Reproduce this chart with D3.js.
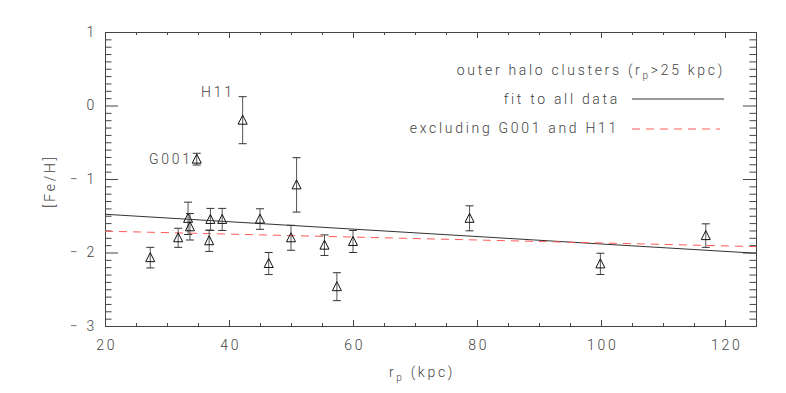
<!DOCTYPE html>
<html>
<head>
<meta charset="utf-8">
<script src="https://cdn.jsdelivr.net/npm/d3@7"></script>
<style>
  body { margin: 0; background: #fff; }
  svg text { font-family: Roboto, 'DejaVu Sans', sans-serif; font-weight: 300; fill: #444; letter-spacing: 2.7px; }
</style>
</head>
<body>
<svg id="canvas"></svg>
<script>
let width = 786
let height = 393

// outer halo clusters: r_p (kpc), [Fe/H] and its error
let rp   = [27.3, 31.8, 33.4, 33.7, 34.8, 36.8, 37.0, 38.9, 42.2, 45.0, 46.4, 50.0, 50.9, 55.4, 57.4, 60.0, 78.8, 99.9, 116.9]
let feh  = [-2.07, -1.80, -1.535, -1.65, -0.73, -1.84, -1.55, -1.55, -0.20, -1.545, -2.15, -1.80, -1.08, -1.90, -2.465, -1.85, -1.535, -2.155, -1.77]
let ferr = [0.14, 0.13, 0.22, 0.18, 0.08, 0.145, 0.15, 0.15, 0.32, 0.14, 0.15, 0.17, 0.37, 0.14, 0.19, 0.15, 0.17, 0.145, 0.16]
let names = ['', '', '', '', 'G001', '', '', '', 'H11', '', '', '', '', '', '', '', '', '', '']

// fit lines, evaluated at the ends of the x range
let fitX = [20, 125]
let fitAll = [-1.48, -2.01]
let fitExcl = [-1.71, -1.92]

let xTicks = [20, 40, 60, 80, 100, 120]
let yTicks = [-3, -2, -1, 0, 1]

let pLeft = 105, pRight = 756, pTop = 32, pBottom = 326

let canvas = d3.select('#canvas')
canvas.attr('width', width).attr('height', height)

let xScale = d3.scaleLinear().domain([20, 125]).range([pLeft, pRight])
let yScale = d3.scaleLinear().domain([-3, 1]).range([pBottom, pTop])

let axisColor = '#444'

/* axes: major + minor ticks on all four sides */
let xMinor = d3.range(25, 125, 5).filter(v => v % 20 != 0)
let yMinor = d3.range(-30, 10, 1).map(v => v / 10).filter(v => Math.abs(v - Math.round(v)) > 1e-6)

function drawAxis(axis, tx, ty) {
  let g = canvas.append('g').attr('transform', `translate(${tx},${ty})`).call(axis)
  g.select('.domain').attr('stroke', axisColor)
  g.selectAll('.tick line').attr('stroke', axisColor)
  g.selectAll('.tick text').attr('font-size', 14).attr('fill', '#444')
  return g
}

// bottom
let bx = drawAxis(d3.axisBottom(xScale).tickValues(xTicks).tickSizeInner(-6).tickSizeOuter(0).tickPadding(14), 0, pBottom)
bx.selectAll('.tick text').attr('dx', 1.3)
drawAxis(d3.axisBottom(xScale).tickValues(xMinor).tickSizeInner(-3).tickSizeOuter(0).tickFormat(''), 0, pBottom)
// top
drawAxis(d3.axisTop(xScale).tickValues(xTicks).tickSizeInner(-6).tickSizeOuter(0).tickFormat(''), 0, pTop)
drawAxis(d3.axisTop(xScale).tickValues(xMinor).tickSizeInner(-3).tickSizeOuter(0).tickFormat(''), 0, pTop)
// left
let ly = drawAxis(d3.axisLeft(yScale).tickValues(yTicks).tickSizeInner(-13).tickSizeOuter(0).tickPadding(8)
  .tickFormat(d => d < 0 ? '\u2212 ' + Math.abs(d) : d), pLeft, 0)
drawAxis(d3.axisLeft(yScale).tickValues(yMinor).tickSizeInner(-6.5).tickSizeOuter(0).tickFormat(''), pLeft, 0)
// right
drawAxis(d3.axisRight(yScale).tickValues(yTicks).tickSizeInner(-13).tickSizeOuter(0).tickFormat(''), pRight, 0)
drawAxis(d3.axisRight(yScale).tickValues(yMinor).tickSizeInner(-6.5).tickSizeOuter(0).tickFormat(''), pRight, 0)

/* axis titles */
let xt = canvas.append('text').attr('x', 422).attr('y', 377).attr('text-anchor', 'middle').attr('font-size', 14)
xt.append('tspan').text('r')
xt.append('tspan').attr('font-size', 10).attr('dy', 4).text('p')
xt.append('tspan').attr('dy', -4).text(' (kpc)')

canvas.append('text')
  .attr('transform', 'translate(55,181) rotate(-90)')
  .attr('text-anchor', 'middle')
  .attr('font-size', 14)
  .text('[Fe/H]')

/* fit lines */
let clip = canvas.append('clipPath').attr('id', 'plotclip')
clip.append('rect').attr('x', pLeft).attr('y', pTop).attr('width', pRight - pLeft).attr('height', pBottom - pTop)

let line = d3.line().x(d => xScale(d[0])).y(d => yScale(d[1]))

canvas.append('path')
  .datum(fitX.map((v, i) => [v, fitAll[i]]))
  .attr('d', line)
  .attr('fill', 'none')
  .attr('stroke', '#333')
  .attr('stroke-width', 1)
  .attr('clip-path', 'url(#plotclip)')

canvas.append('path')
  .datum(fitX.map((v, i) => [v, fitExcl[i]]))
  .attr('d', line)
  .attr('fill', 'none')
  .attr('stroke', '#ff5a5a')
  .attr('stroke-width', 1)
  .attr('stroke-dasharray', '8,6')
  .attr('clip-path', 'url(#plotclip)')

/* error bars and triangles */
let pts = rp.map((v, i) => ({x: v, y: feh[i], e: ferr[i], name: names[i]}))

let pg = canvas.append('g').selectAll('g').data(pts).enter().append('g')

pg.append('line')
  .attr('x1', d => xScale(d.x)).attr('x2', d => xScale(d.x))
  .attr('y1', d => yScale(d.y + d.e)).attr('y2', d => yScale(d.y - d.e))
  .attr('stroke', '#555')
pg.append('line')
  .attr('x1', d => xScale(d.x) - 4).attr('x2', d => xScale(d.x) + 4)
  .attr('y1', d => yScale(d.y + d.e)).attr('y2', d => yScale(d.y + d.e))
  .attr('stroke', '#333')
pg.append('line')
  .attr('x1', d => xScale(d.x) - 4).attr('x2', d => xScale(d.x) + 4)
  .attr('y1', d => yScale(d.y - d.e)).attr('y2', d => yScale(d.y - d.e))
  .attr('stroke', '#333')
pg.append('path')
  .attr('d', d => {
    let cx = xScale(d.x), cy = yScale(d.y)
    return `M${cx},${cy - 5}L${cx + 4.5},${cy + 4}L${cx - 4.5},${cy + 4}Z`
  })
  .attr('fill', 'none')
  .attr('stroke', '#111')

pg.filter(d => d.name != '')
  .append('text')
  .attr('x', d => d.name == 'H11' ? xScale(d.x) - 8 : xScale(d.x) - 4)
  .attr('y', d => d.name == 'H11' ? yScale(d.y) - 23 : yScale(d.y) + 5)
  .attr('text-anchor', 'end')
  .attr('font-size', 14)
  .text(d => d.name)

/* legend */
let lg = canvas.append('g')
let t1 = lg.append('text').attr('x', 725).attr('y', 75).attr('text-anchor', 'end').attr('font-size', 14)
t1.append('tspan').text('outer halo clusters (r')
t1.append('tspan').attr('font-size', 10).attr('dy', 4).text('p')
t1.append('tspan').attr('dy', -4).text('>25 kpc)')

lg.append('text').attr('x', 620).attr('y', 104).attr('text-anchor', 'end').attr('font-size', 14).text('fit to all data')
lg.append('line').attr('x1', 632).attr('x2', 724).attr('y1', 99).attr('y2', 99).attr('stroke', '#333')

lg.append('text').attr('x', 619).attr('y', 133).attr('text-anchor', 'end').attr('font-size', 14).text('excluding G001 and H11')
lg.append('line').attr('x1', 632).attr('x2', 720).attr('y1', 129).attr('y2', 129)
  .attr('stroke', '#ff5a5a').attr('stroke-dasharray', '8,6')
</script>
</body>
</html>
